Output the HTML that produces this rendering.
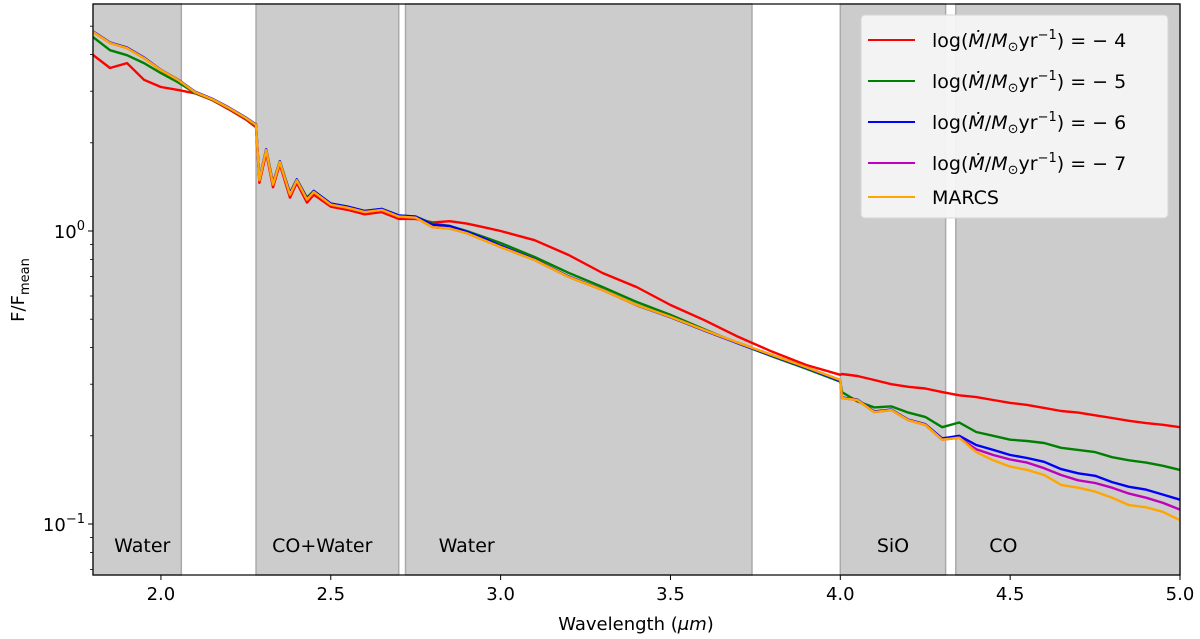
<!DOCTYPE html>
<html><head><meta charset="utf-8">
<style>
html,body{margin:0;padding:0;background:#fff;}
svg{display:block;font-family:"DejaVu Sans","Liberation Sans",sans-serif;}
</style></head>
<body>
<svg id="chart" width="1200" height="639" viewBox="0 0 1200 639" xmlns="http://www.w3.org/2000/svg">
<g id="bands"></g>
<g id="series"></g>
<g id="axes"></g>
<g id="legend"></g>
</svg>
<script>
const wl = [1.80,1.85,1.90,1.95,2.00,2.05,2.10,2.15,2.20,2.25,2.28,2.29,2.31,2.33,2.35,2.38,2.40,2.43,2.45,2.50,2.55,2.60,2.65,2.70,2.75,2.80,2.85,2.90,2.95,3.00,3.10,3.20,3.30,3.40,3.50,3.60,3.70,3.80,3.90,4.00,4.005,4.05,4.10,4.15,4.20,4.25,4.30,4.35,4.40,4.45,4.50,4.55,4.60,4.65,4.70,4.75,4.80,4.85,4.90,4.95,5.00];
const fluxMarcs = [4.78,4.38,4.21,3.89,3.54,3.28,2.98,2.82,2.63,2.43,2.30,1.49,1.89,1.44,1.72,1.33,1.49,1.28,1.36,1.23,1.20,1.16,1.18,1.12,1.11,1.03,1.02,0.984,0.932,0.882,0.796,0.697,0.629,0.559,0.509,0.459,0.415,0.377,0.343,0.310,0.269,0.265,0.241,0.245,0.226,0.218,0.194,0.197,0.176,0.165,0.157,0.153,0.147,0.136,0.133,0.129,0.123,0.116,0.114,0.110,0.103];
const fluxM7 = [4.78,4.38,4.21,3.89,3.54,3.28,2.98,2.82,2.63,2.43,2.30,1.49,1.89,1.44,1.72,1.33,1.49,1.28,1.36,1.23,1.20,1.16,1.18,1.12,1.11,1.03,1.02,0.984,0.932,0.882,0.796,0.697,0.629,0.559,0.509,0.459,0.415,0.377,0.343,0.310,0.269,0.265,0.241,0.245,0.226,0.218,0.194,0.197,0.180,0.172,0.166,0.162,0.155,0.147,0.141,0.138,0.133,0.127,0.123,0.118,0.112];
const fluxM6 = [4.80,4.40,4.23,3.91,3.55,3.29,2.99,2.83,2.64,2.44,2.31,1.50,1.90,1.45,1.73,1.34,1.50,1.29,1.37,1.24,1.21,1.17,1.19,1.13,1.12,1.05,1.04,0.995,0.945,0.89,0.80,0.70,0.63,0.558,0.508,0.457,0.413,0.375,0.341,0.308,0.270,0.266,0.242,0.246,0.227,0.219,0.196,0.200,0.186,0.179,0.172,0.168,0.163,0.154,0.149,0.146,0.139,0.134,0.131,0.126,0.121];
const fluxM5 = [4.59,4.14,3.98,3.74,3.46,3.22,2.96,2.81,2.62,2.42,2.29,1.50,1.90,1.46,1.73,1.35,1.50,1.30,1.37,1.24,1.21,1.17,1.19,1.13,1.12,1.06,1.04,1.00,0.955,0.91,0.815,0.72,0.644,0.573,0.517,0.462,0.413,0.373,0.339,0.306,0.282,0.262,0.250,0.252,0.240,0.232,0.214,0.222,0.206,0.200,0.194,0.192,0.189,0.182,0.179,0.176,0.169,0.165,0.162,0.158,0.153];
const fluxM4 = [3.99,3.60,3.74,3.28,3.10,3.03,2.95,2.80,2.60,2.40,2.26,1.46,1.85,1.41,1.69,1.30,1.46,1.25,1.33,1.21,1.18,1.14,1.16,1.10,1.10,1.07,1.08,1.06,1.03,1.00,0.93,0.828,0.719,0.644,0.559,0.496,0.435,0.387,0.349,0.323,0.325,0.320,0.310,0.300,0.294,0.290,0.282,0.275,0.271,0.265,0.259,0.255,0.249,0.243,0.240,0.235,0.230,0.225,0.221,0.218,0.214];
const bandStarts = [1.80,2.28,2.72,4.00,4.34];
const bandEnds = [2.06,2.70,3.74,4.31,5.00];
const bandLabels = ["Water","CO+Water","Water","SiO","CO"];
const bandLabelX = [1.945,2.475,2.90,4.155,4.48];
const xTicks = [2.0,2.5,3.0,3.5,4.0,4.5,5.0];
const xTickLabels = ["2.0","2.5","3.0","3.5","4.0","4.5","5.0"];

const NS="http://www.w3.org/2000/svg";
const L=93,R=1180,T=4,B=575;
const xmin=1.8,xmax=5.0;
const X=v=>L+(v-xmin)/(xmax-xmin)*(R-L);
const Y=v=>231-Math.log10(v)*293;
function mk(tag,attrs,parent){const e=document.createElementNS(NS,tag);for(const k in attrs)e.setAttribute(k,attrs[k]);parent.appendChild(e);return e;}

const bands=document.getElementById('bands');
for(let i=0;i<bandStarts.length;i++){
  const r=mk('rect',{x:X(bandStarts[i]),y:T,width:X(bandEnds[i])-X(bandStarts[i]),height:B-T,fill:'#cccccc',stroke:'#aaaaaa','stroke-width':1.5},bands);
  
  
  const t=mk('text',{x:X(bandLabelX[i]),y:552,'text-anchor':'middle','font-size':19,fill:'#000'},bands);
  t.textContent=bandLabels[i];
  
  
}

const seriesDefs=[[fluxM4,'#ff0000','series-m4'],[fluxM5,'#008000','series-m5'],[fluxM6,'#0000ff','series-m6'],[fluxM7,'#bf00bf','series-m7'],[fluxMarcs,'#ffa500','series-marcs']];
const sg=document.getElementById('series');
seriesDefs.forEach(d=>{
  const pts=wl.map((w,i)=>X(w).toFixed(1)+','+Y(d[0][i]).toFixed(1)).join(' ');
  const p=mk('polyline',{points:pts,fill:'none',stroke:d[1],'stroke-width':2.4,'stroke-linejoin':'round'},sg);
  
  
});

const ax=document.getElementById('axes');
const frame=mk('rect',{x:L,y:T,width:R-L,height:B-T,fill:'none',stroke:'#000','stroke-width':1.2},ax);


xTicks.forEach((v,i)=>{
  mk('line',{x1:X(v),x2:X(v),y1:B,y2:B+5,stroke:'#000','stroke-width':1},ax);
  const t=mk('text',{x:X(v),y:B+25,'text-anchor':'middle','font-size':18},ax);
  t.textContent=xTickLabels[i];
  
  
});
[0.07,0.08,0.09,0.2,0.3,0.4,0.5,0.6,0.7,0.8,0.9,2,3,4,5].forEach(v=>{
  mk('line',{x1:L-3,x2:L,y1:Y(v),y2:Y(v),stroke:'#000','stroke-width':0.8},ax);
});
[[1,'0'],[0.1,'−1']].forEach(([v,e])=>{
  mk('line',{x1:L-5,x2:L,y1:Y(v),y2:Y(v),stroke:'#000','stroke-width':1},ax);
  const t=mk('text',{x:L-8,y:Y(v)+7,'text-anchor':'end','font-size':18},ax);
  t.innerHTML='10<tspan dy="-8" font-size="13">'+e+'</tspan>';
  
  
});
const xl=mk('text',{x:636,y:630,'text-anchor':'middle','font-size':18},ax);
xl.innerHTML='Wavelength (<tspan font-style="italic">μm</tspan>)';


const yl=mk('text',{x:0,y:0,'text-anchor':'middle','font-size':18,transform:'translate(24,290) rotate(-90)'},ax);
yl.innerHTML='F/F<tspan dy="5" font-size="13">mean</tspan>';



const lg=document.getElementById('legend');
const box=mk('rect',{x:861,y:15,width:307,height:203,rx:4,fill:'#f4f4f4','fill-opacity':0.95,stroke:'#d6d6d6'},lg);


const legendLabels=['− 4','− 5','− 6','− 7',null];
const legendY=[40,81,122,163,197];
seriesDefs.forEach((d,i)=>{
  mk('line',{x1:868,x2:915,y1:legendY[i],y2:legendY[i],stroke:d[1],'stroke-width':2},lg);
  const t=mk('text',{x:932,y:legendY[i]+7,'font-size':19},lg);
  if(legendLabels[i]) t.innerHTML='log(<tspan font-style="italic">Ṁ</tspan>/<tspan font-style="italic">M</tspan><tspan font-size="13" dy="4">⊙</tspan><tspan dy="-4">yr</tspan><tspan font-size="13" dy="-8">−1</tspan><tspan dy="8">) = '+legendLabels[i]+'</tspan>';
  else t.textContent='MARCS';
  
  
});
</script>
</body></html>
